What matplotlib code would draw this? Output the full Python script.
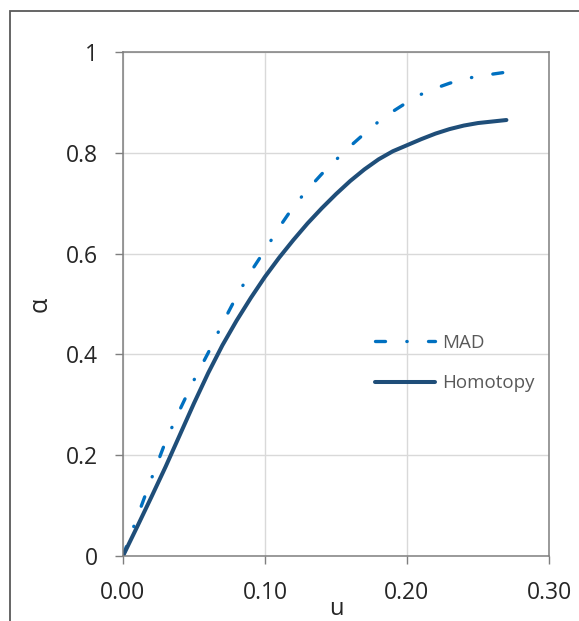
import matplotlib
matplotlib.use("Agg")
import matplotlib.pyplot as plt
from matplotlib.patches import Rectangle

# curve samples, u vs alpha
u_mad = [0.00, 0.01, 0.02, 0.03, 0.04, 0.05, 0.06, 0.07, 0.08, 0.09, 0.10,
         0.11, 0.12, 0.13, 0.14, 0.15, 0.16, 0.17, 0.18, 0.19, 0.20,
         0.21, 0.22, 0.23, 0.24, 0.25, 0.26, 0.27]
alpha_mad = [0.000, 0.077, 0.153, 0.227, 0.290, 0.349, 0.403, 0.461, 0.515, 0.564, 0.607,
             0.652, 0.693, 0.727, 0.758, 0.786, 0.813, 0.838, 0.862, 0.882, 0.900,
             0.916, 0.928, 0.938, 0.946, 0.952, 0.956, 0.960]

u_hom = [0.00, 0.01, 0.02, 0.03, 0.04, 0.05, 0.06, 0.07, 0.08, 0.09, 0.10,
         0.11, 0.12, 0.13, 0.14, 0.15, 0.16, 0.17, 0.18, 0.19, 0.20,
         0.21, 0.22, 0.23, 0.24, 0.25, 0.26, 0.27]
alpha_hom = [0.000, 0.058, 0.117, 0.177, 0.240, 0.303, 0.363, 0.418, 0.467, 0.512, 0.554,
             0.592, 0.627, 0.660, 0.690, 0.718, 0.744, 0.767, 0.787, 0.803, 0.815,
             0.827, 0.838, 0.847, 0.854, 0.859, 0.862, 0.865]

x_ticks = [0.00, 0.10, 0.20, 0.30]
x_tick_labels = ["0.00", "0.10", "0.20", "0.30"]
y_ticks = [0, 0.2, 0.4, 0.6, 0.8, 1.0]
y_tick_labels = ["0", "0.2", "0.4", "0.6", "0.8", "1"]

plt.rcParams["font.family"] = ["Open Sans", "DejaVu Sans"]

fig = plt.figure(figsize=(5.79, 6.21), dpi=100)
ax = fig.add_axes([0.2124, 0.1047, 0.7358, 0.8116])

# outer chart-area frame
fig.add_artist(Rectangle((0.0168, -0.1), 1.2, 0.9823 + 0.1, transform=fig.transFigure,
                         fill=False, edgecolor="#595959", linewidth=1.3, clip_on=False))

ax.plot(u_mad, alpha_mad, color="#0070C0", linewidth=2.4,
        linestyle=(0, (3.0, 6.4, 0.1, 6.4)), dash_capstyle="round", label="MAD")
ax.plot(u_hom, alpha_hom, color="#1F4E79", linewidth=2.9,
        solid_capstyle="round", solid_joinstyle="round", label="Homotopy")

ax.set_xlim(0, 0.30)
ax.set_ylim(0, 1)
ax.set_xticks(x_ticks)
ax.set_xticklabels(x_tick_labels)
ax.set_yticks(y_ticks)
ax.set_yticklabels(y_tick_labels)
ax.tick_params(axis="both", direction="out", length=6, width=1.0, color="#7f7f7f",
               labelsize=16.5, labelcolor="#262626", pad=12)

ax.grid(True, color="#d9d9d9", linewidth=1.0)
ax.set_axisbelow(True)
for side in ax.spines.values():
    side.set_color("#7f7f7f")
    side.set_linewidth(1.1)

ax.set_xlabel("u", fontsize=17, color="#262626", va="center")
ax.xaxis.set_label_coords(0.5, -0.105)
ax.set_ylabel("α", fontsize=18, color="#262626", va="center")
ax.yaxis.set_label_coords(-0.195, 0.5)

leg = ax.legend(loc="upper left", bbox_to_anchor=(0.5915, 0.441), frameon=False,
                fontsize=13.5, handlelength=3.2, handletextpad=0.4, labelspacing=1.2,
                borderpad=0, borderaxespad=0)
for txt in leg.get_texts():
    txt.set_color("#595959")

fig.savefig("out.png", dpi=100)
